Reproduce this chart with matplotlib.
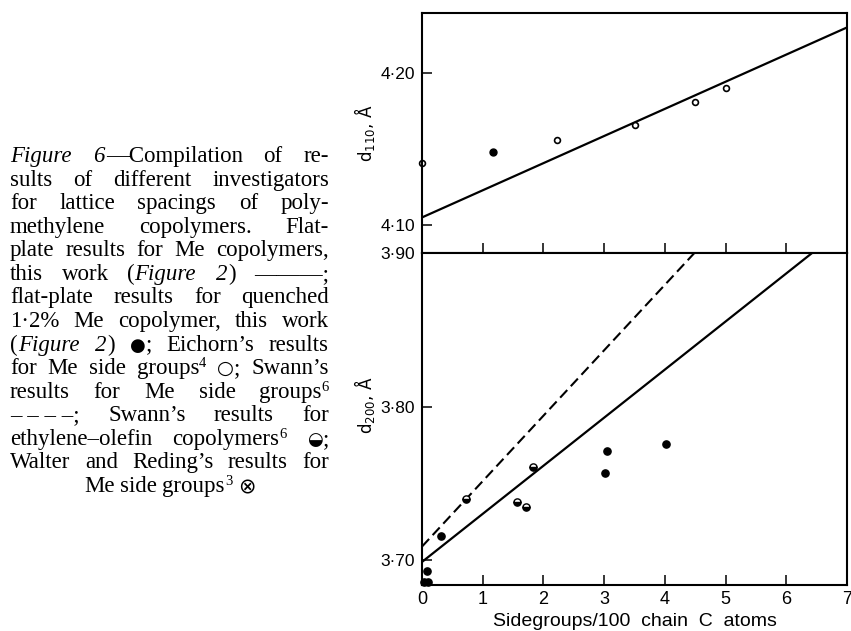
import re
import matplotlib
matplotlib.use("Agg")
import matplotlib.pyplot as plt
from matplotlib.transforms import IdentityTransform

# --- data ---
x_fit = [0.0, 7.0]
d110_fit = [4.105, 4.230]
d200_fit = [3.699, 3.918]
d200_swann = [3.709, 4.007]

d110_open_x = [0.0, 2.23, 3.51, 4.49, 5.01]
d110_open_y = [4.141, 4.156, 4.166, 4.181, 4.190]
d110_filled_x = [1.17]
d110_filled_y = [4.148]

d200_filled_x = [0.03, 0.10, 0.09, 0.31, 3.01, 3.04, 4.02]
d200_filled_y = [3.686, 3.686, 3.693, 3.716, 3.757, 3.771, 3.776]
d200_half_x = [0.725, 1.56, 1.72, 1.82]
d200_half_y = [3.740, 3.738, 3.735, 3.761]

x_ticks = [0, 1, 2, 3, 4, 5, 6, 7]
top_yticks = [4.10, 4.20]
bot_yticks = [3.70, 3.80, 3.90]

caption_lines = [
    "{i|Figure} {i|6}—Compilation of re-",
    "sults of different investigators",
    "for lattice spacings of poly-",
    "methylene copolymers. Flat-",
    "plate results for Me copolymers,",
    "this work ({i|Figure} {i|2}) ———;",
    "flat-plate results for quenched",
    "1·2% Me copolymer, this work",
    "({i|Figure} {i|2}) {s|●}; Eichorn’s results",
    "for Me side groups{u|4} {o|○}; Swann’s",
    "results for Me side groups{u|6}",
    "–\u00a0–\u00a0–\u00a0–; Swann’s results for",
    "ethylene–olefin copolymers{u|6} {s|◒};",
    "Walter and Reding’s results for",
    "Me side groups{u|3} {x|⊗}",
]

W, H = 851, 631
SERIF = ["Liberation Serif", "DejaVu Serif"]
SANS = "DejaVu Sans"
TICKFONT = "Liberation Sans"


def dot(v):
    return f"{v:.2f}".replace(".", "·")


fig = plt.figure(figsize=(W / 100, H / 100), dpi=100)
ax_top = fig.add_axes([422 / W, 1 - 253 / H, 425 / W, 240 / H])
ax_bot = fig.add_axes([422 / W, 1 - 585 / H, 425 / W, 332 / H])

for ax in (ax_top, ax_bot):
    for sp in ax.spines.values():
        sp.set_linewidth(1.5)
    ax.set_xlim(0, 7)
    ax.set_xticks(x_ticks)
    ax.tick_params(direction="in", length=7, width=1.1, pad=5)
    ax.tick_params(axis="x", pad=4)

# top panel: d110
ax_top.plot(x_fit, d110_fit, color="black", lw=1.6)
ax_top.plot(d110_open_x, d110_open_y, "o", ms=4.2, mfc="white", mec="black", mew=1.2, clip_on=False)
ax_top.plot(d110_filled_x, d110_filled_y, "o", ms=5, color="black", clip_on=False)
ax_top.set_ylim(4.0816, 4.2395)
ax_top.set_yticks(top_yticks)
ax_top.set_yticklabels([dot(v) for v in top_yticks], family=TICKFONT, fontsize=12.5)
ax_top.set_xticklabels([])
ax_top.set_ylabel(r"$\mathregular{d_{110}}$, Å", fontsize=12, family=SANS)
ax_top.yaxis.set_label_coords(-0.106, 0.5)

# bottom panel: d200
ax_bot.plot(x_fit, d200_fit, color="black", lw=1.6)
ax_bot.plot(x_fit, d200_swann, color="black", lw=1.5, dashes=(5, 2.5))
ax_bot.plot(d200_filled_x, d200_filled_y, "o", ms=5.2, color="black", clip_on=False)
ax_bot.plot(d200_half_x, d200_half_y, "o", ms=5.2, color="black", mfc="black", mfcalt="white",
            fillstyle="bottom", mew=1.0, clip_on=False)
ax_bot.set_ylim(3.684, 3.899)
ax_bot.set_yticks(bot_yticks)
ax_bot.set_yticklabels([dot(v) for v in bot_yticks], family=TICKFONT, fontsize=12.5)
ax_bot.set_xticklabels([str(v) for v in x_ticks], family=TICKFONT, fontsize=13)
ax_bot.set_xlabel("Sidegroups/100  chain  C  atoms", fontsize=14, family=TICKFONT, labelpad=4)
ax_bot.set_ylabel(r"$\mathregular{d_{200}}$, Å", fontsize=12, family=SANS)
ax_bot.yaxis.set_label_coords(-0.106, 0.542)

# caption, justified line by line
fig.canvas.draw()
rend = fig.canvas.get_renderer()
ident = IdentityTransform()
styles = {
    "r": (dict(family=SERIF, size=16.5), 0),
    "i": (dict(family=SERIF, size=16.5, style="italic"), 0),
    "u": (dict(family=SERIF, size=10.5), 7),
    "s": (dict(family=SANS, size=13), 0),
    "o": (dict(family=SANS, size=14), 0),
    "x": (dict(family=SANS, size=15), -1),
}
x0, x1 = 10, 329
space_w = 5.5


def parse(word):
    segs = []
    for m in re.finditer(r"\{(\w)\|([^}]*)\}|([^{]+)", word):
        if m.group(3):
            segs.append((m.group(3), "r"))
        else:
            segs.append((m.group(2), m.group(1)))
    return segs


for i, line in enumerate(caption_lines):
    base = H - (162 + 23.57 * i)
    words = []
    for w in line.split(" "):
        parts, width = [], 0.0
        for txt, kind in parse(w):
            props, dy = styles[kind]
            t = fig.text(0, base + dy, txt, transform=ident, va="baseline", ha="left", **props)
            parts.append((t, width))
            width += t.get_window_extent(rend).width + (1 if kind == "i" else 0)
        words.append((parts, width))
    total = sum(w for _, w in words)
    if i == len(caption_lines) - 1:
        gap = space_w
        x = (x0 + x1) / 2 - (total + gap * (len(words) - 1)) / 2
    else:
        gap = max(3.0, (x1 - x0 - total) / (len(words) - 1))
        x = x0
    for parts, width in words:
        for t, off in parts:
            t.set_x(x + off)
        x += width + gap

fig.savefig("out.png", dpi=100)
